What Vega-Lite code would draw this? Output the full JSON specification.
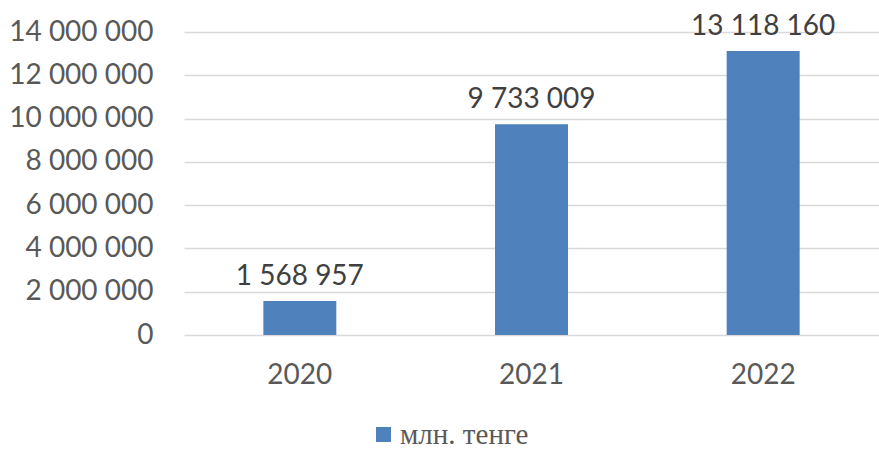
{
  "$schema": "https://vega.github.io/schema/vega-lite/v6.json",
  "autosize": "none",
  "width": 695,
  "height": 303,
  "padding": {"left": 184, "top": 32, "right": 0, "bottom": 115},
  "background": "white",
  "config": {
    "locale": {"number": {"decimal": ",", "thousands": " ", "grouping": [3], "currency": ["", ""]}},
    "view": {"stroke": null}
  },
  "data": {
    "values": [
      {"year": "2020", "value": 1568957, "series": "млн. тенге"},
      {"year": "2021", "value": 9733009, "series": "млн. тенге"},
      {"year": "2022", "value": 13118160, "series": "млн. тенге"}
    ]
  },
  "encoding": {
    "x": {
      "field": "year", "type": "nominal",
      "scale": {"paddingInner": 0.685, "paddingOuter": 0.3425},
      "axis": {"title": null, "labelAngle": 0, "domain": false, "ticks": false, "labelFont": "Lato", "labelFontSize": 28, "labelColor": "#595959", "labelPadding": 26, "grid": false}
    },
    "y": {
      "field": "value", "type": "quantitative",
      "scale": {"domain": [0, 14000000]},
      "axis": {"title": null, "values": [0, 2000000, 4000000, 6000000, 8000000, 10000000, 12000000, 14000000], "labelExpr": "format(datum.value, ',')", "domain": false, "ticks": false, "labelFont": "Lato", "labelFontSize": 28, "labelColor": "#595959", "labelPadding": 31, "gridColor": "#d9d9d9", "gridWidth": 1.3}
    }
  },
  "layer": [
    {
      "mark": {"type": "bar"},
      "encoding": {
        "color": {
          "field": "series", "type": "nominal",
          "scale": {"range": ["#4F81BD"]},
          "legend": {"title": null, "orient": "none", "legendX": 185, "legendY": 388, "padding": 0, "symbolType": "square", "symbolSize": 225, "symbolStrokeWidth": 0, "labelFont": "Liberation Serif", "labelFontSize": 29, "labelColor": "#595959", "labelOffset": 2}
        }
      }
    },
    {
      "mark": {"type": "text", "dy": -24, "fontSize": 28, "font": "Lato", "color": "#404040"},
      "encoding": {
        "text": {"field": "value", "type": "quantitative", "format": ","}
      }
    }
  ]
}
